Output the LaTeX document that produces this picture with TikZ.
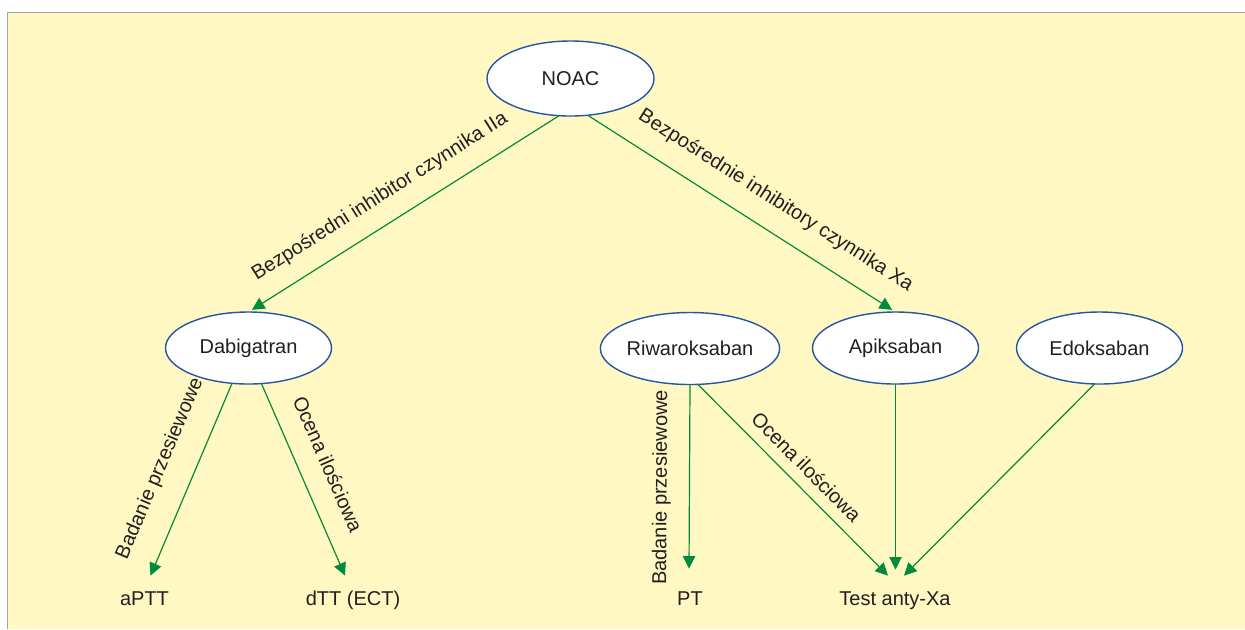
\documentclass[tikz,border=0pt]{standalone}
\usepackage{fontspec}
\setmainfont{Liberation Sans}
\usetikzlibrary{arrows.meta,calc,shapes.geometric}
\definecolor{bgyellow}{HTML}{FFF8C2}
\definecolor{framegray}{HTML}{A6A6A6}
\definecolor{ellblue}{HTML}{2456A4}
\definecolor{arrgreen}{HTML}{008C3C}
\definecolor{txtgray}{HTML}{231F20}
\begin{document}
\begin{tikzpicture}[x=0.5pt,y=-0.5pt,
  every node/.style={font=\fontsize{10}{12}\selectfont, text=txtgray},
  drug/.style={ellipse, draw=ellblue, line width=0.7pt, fill=white, minimum width=83pt, minimum height=36pt, inner sep=0pt, outer sep=0pt},
  testlbl/.style={anchor=base, inner sep=0pt, text height=7pt, text depth=2pt},
  conn/.style={draw=arrgreen, line width=0.6pt, -{Triangle[length=6.3pt,width=6.2pt]}},
  edgelbl/.style={sloped, inner sep=0pt}
]
\useasboundingbox (0,0) rectangle (1245,629);
\fill[bgyellow] (7.5,12.5) rectangle (1245,629);
\draw[framegray, line width=0.75pt] (7.5,629) -- (7.5,12.5) -- (1245,12.5);

\node[drug, minimum width=83.5pt, minimum height=37.5pt] (noac) at (570.5,78.5) {NOAC};
\node[drug] (dab) at (248.5,348) {Dabigatran};
\node[drug] (riw) at (690,348.5) {Riwaroksaban};
\node[drug] (api) at (895.5,348) {Apiksaban};
\node[drug] (edo) at (1099.5,348) {Edoksaban};

\node[testlbl] (aptt) at (144.5,605) {aPTT};
\node[testlbl] (dtt) at (353,605) {dTT (ECT)};
\node[testlbl] (pt) at (690,605) {PT};
\node[testlbl] (test) at (895,605) {Test anty-Xa};

\draw[conn, shorten >=2pt] (noac.253) -- node[edgelbl, above=8.5pt, pos=0.53] {Bezpośredni inhibitor czynnika IIa} (dab.north);
\draw[conn, shorten >=2pt] (noac.295) -- node[edgelbl, above=9.5pt, pos=0.56] {Bezpośrednie inhibitory czynnika Xa} (api.north);

\draw[conn] (dab.245) -- node[edgelbl, above=11.5pt, pos=0.51] {Badanie przesiewowe} ($(aptt.north)+(6,-15)$);
\draw[conn] (dab.290) -- node[edgelbl, above=10.5pt, pos=0.48] {Ocena ilościowa} ($(dtt.north)+(-8,-15)$);

\draw[conn] (riw.south) -- node[edgelbl, above=9pt, pos=0.56] {Badanie przesiewowe} ($(pt.north)+(-1,-22)$);
\draw[conn] ($(riw.south)+(8,0)$) -- node[edgelbl, above=5.5pt, pos=0.5] {Ocena ilościowa} ($(test.north)+(-7,-15)$);
\draw[conn] (api.south) -- ($(test.north)+(0.5,-21)$);
\draw[conn] ($(edo.south)+(-5,0)$) -- ($(test.north)+(9,-15)$);
\end{tikzpicture}
\end{document}
